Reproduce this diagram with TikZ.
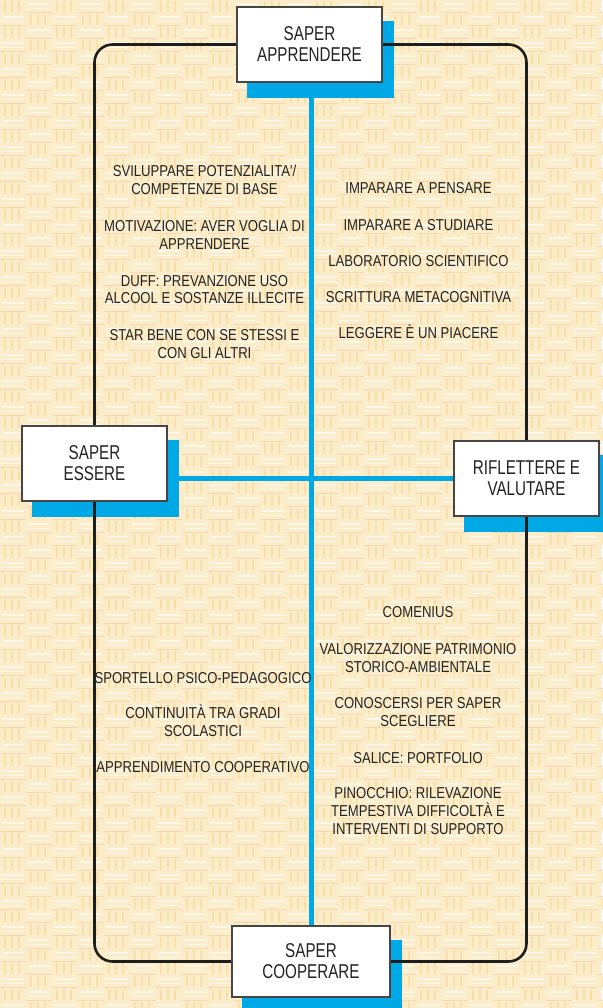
\documentclass[tikz,border=0pt]{standalone}
\usepackage{fontspec}
\newfontfamily\bodyfont{Liberation Sans}[FakeStretch=0.83]
\newfontfamily\boxfont{Liberation Sans}[FakeStretch=0.76]
\pgfdeclarelayer{bg}
\pgfdeclarelayer{shadowlayer}
\pgfdeclarelayer{lines}
\pgfsetlayers{bg,shadowlayer,lines,main}
\definecolor{paper}{RGB}{252,237,202}
\definecolor{weaveA}{RGB}{249,220,160}
\definecolor{weaveB}{RGB}{246,205,165}
\definecolor{cyanline}{RGB}{0,169,230}
\definecolor{ink}{RGB}{35,35,35}
\definecolor{frameink}{RGB}{30,30,30}
\definecolor{boxborder}{RGB}{70,70,70}
\begin{document}
\begin{tikzpicture}[x=1pt,y=-1pt,
  box/.style={draw=boxborder, line width=1.2pt, fill=white, minimum width=145pt, minimum height=75pt, inner sep=0pt, align=center, font=\boxfont\fontsize{20}{21}\selectfont, text=ink},
  item/.style={anchor=base, inner sep=0pt, font=\bodyfont\fontsize{15.8}{17.5}\selectfont, text=ink},
  frame/.style={draw=frameink, line width=2.6pt, rounded corners=18pt},
  blueline/.style={draw=cyanline, line width=5pt},
  boxshadow/.style={fill=cyanline}]
\useasboundingbox (0,0) rectangle (602,1008);
% background texture
\begin{pgfonlayer}{bg}
\fill[paper] (0,0) rectangle (602,1008);
\foreach \j in {0,...,77} {
  \pgfmathtruncatemacro\off{mod(\j,2)}
  \draw[weaveA, line width=2.2pt, opacity=0.8]
    \foreach \k in {0,...,11} {
      ({(2*\k+\off)*26+5},{\j*13+1}) -- ++(0,11)
      ({(2*\k+\off)*26+12},{\j*13+1}) -- ++(0,11)
      ({(2*\k+\off)*26+19},{\j*13+1}) -- ++(0,11)
    };
  \draw[weaveB, line width=0.8pt, opacity=0.7]
    \foreach \k in {0,...,11} {
      ({(2*\k+1-\off)*26},{\j*13+12.5}) -- ++(26,0)
    };
  \draw[white, line width=1.5pt, opacity=0.6]
    \foreach \k in {0,...,11} {
      ({(2*\k+1-\off)*26+2},{\j*13+4}) -- ++(22,0)
      ({(2*\k+1-\off)*26+2},{\j*13+8.5}) -- ++(22,0)
    };
}
\end{pgfonlayer}
% boxes
\node[box] (top) at (309.5,44.5) {SAPER\\APPRENDERE};
\node[box] (left) at (94.5,463.5) {SAPER\\ESSERE};
\node[box] (right) at (526.5,478.5) {RIFLETTERE E\\VALUTARE};
\node[box, minimum width=158pt, minimum height=71pt] (bottom) at (311,961.5) {SAPER\\COOPERARE};
% shadows
\begin{pgfonlayer}{shadowlayer}
\foreach \b in {top,left,right,bottom} {
  \fill[boxshadow] ([shift={(11,15)}]\b.north west) rectangle ([shift={(11,15)}]\b.south east);
}
\end{pgfonlayer}
% connectors
\begin{pgfonlayer}{lines}
\draw[blueline] (bottom |- top) -- (bottom);
\draw[blueline] (right -| left) -- (right);
\draw[frame] (top.center) -| (left.center) |- (bottom.center) -| (right.center) |- (top.center) -- cycle;
\end{pgfonlayer}
% upper left
\node[item] (a1) at (204.5,177) {SVILUPPARE POTENZIALITA'/};
\node[item] (a2) at (204.5,194.5) {COMPETENZE DI BASE};
\node[item] (b1) at (204.5,232) {MOTIVAZIONE: AVER VOGLIA DI};
\node[item] (b2) at (204.5,249.5) {APPRENDERE};
\node[item] (c1) at (204.5,286) {DUFF: PREVANZIONE USO};
\node[item] (c2) at (204.5,303.5) {ALCOOL E SOSTANZE ILLECITE};
\node[item] (d1) at (204.5,340.5) {STAR BENE CON SE STESSI E};
\node[item] (d2) at (204.5,358) {CON GLI ALTRI};
% upper right
\node[item] (e1) at (418.5,193.7) {IMPARARE A PENSARE};
\node[item] (e2) at (418.5,230.7) {IMPARARE A STUDIARE};
\node[item] (e3) at (418.5,266.7) {LABORATORIO SCIENTIFICO};
\node[item] (e4) at (418.5,302.7) {SCRITTURA METACOGNITIVA};
\node[item] (e5) at (418.5,338.7) {LEGGERE È UN PIACERE};
% lower left
\node[item] (f1) at (203,683.7) {SPORTELLO PSICO-PEDAGOGICO};
\node[item] (f2) at (203,718.7) {CONTINUITÀ TRA GRADI};
\node[item] (f3) at (203,736.5) {SCOLASTICI};
\node[item] (f4) at (203,772.7) {APPRENDIMENTO COOPERATIVO};
% lower right
\node[item] (g1) at (418,617.7) {COMENIUS};
\node[item] (g2) at (418,654.7) {VALORIZZAZIONE PATRIMONIO};
\node[item] (g3) at (418,672.5) {STORICO-AMBIENTALE};
\node[item] (g4) at (418,708.7) {CONOSCERSI PER SAPER};
\node[item] (g5) at (418,726.5) {SCEGLIERE};
\node[item] (g6) at (418,763.7) {SALICE: PORTFOLIO};
\node[item] (g7) at (418,798.7) {PINOCCHIO: RILEVAZIONE};
\node[item] (g8) at (418,816.5) {TEMPESTIVA DIFFICOLTÀ E};
\node[item] (g9) at (418,834.3) {INTERVENTI DI SUPPORTO};
\end{tikzpicture}
\end{document}
